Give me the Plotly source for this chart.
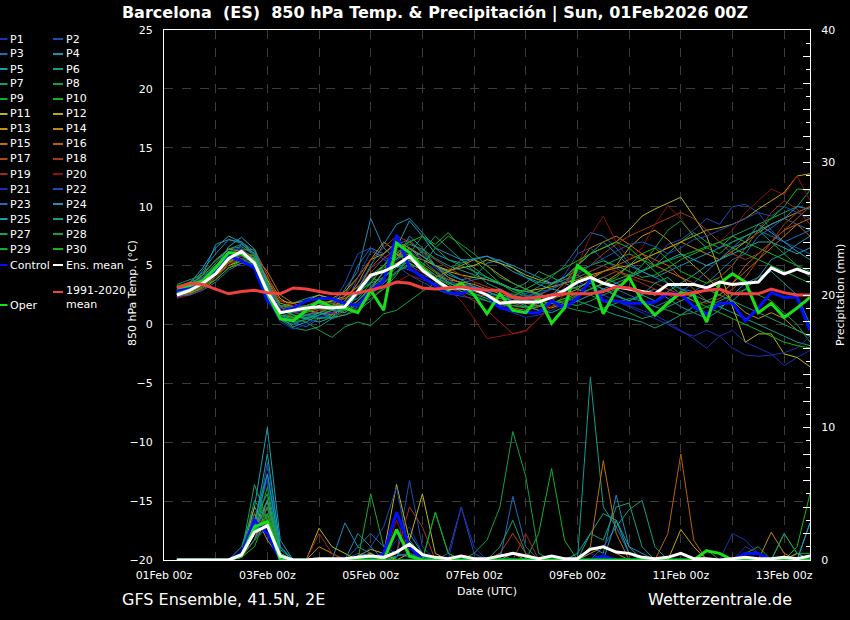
import plotly.graph_objects as go
import pandas as pd

# ---------------- time axis (6-hourly, 01Feb 06z .. 13Feb 12z) ----------------
times = pd.date_range("2026-02-01 06:00", periods=50, freq="6h")

# ---------------- 850 hPa temperature (°C) ----------------
T_P01 = [2.4,2.8,3.5,4.8,6.2,6.5,5.4,2.0,0.6,1.0, 1.4,1.8,1.2,2.0,3.5,4.8,5.5,6.0,5.2,4.0, 3.5,3.0,2.8,2.6,2.2,1.6,1.4,1.2,1.8,2.4, 3.0,3.6,3.2,2.5,2.0,1.6,1.2,0.8,0.2,-0.5, -1.2,-2.0,-1.0,-0.5,-1.5,-2.0,-2.5,-3.5,-2.8,-2.2]
T_P02 = [2.6,3.1,3.9,5.0,6.0,6.4,5.6,3.0,1.2,0.8, 0.6,1.0,0.9,1.5,4.0,6.2,5.8,5.0,4.2,3.6, 3.0,2.6,2.4,2.2,2.0,1.5,1.8,2.4,2.8,3.0, 4.2,6.0,6.5,5.5,4.8,4.0,4.5,5.5,6.8,7.2, 8.0,9.0,8.5,10.0,10.2,9.5,8.0,7.0,6.5,6.0]
T_P03 = [2.3,2.6,3.2,4.2,5.5,6.8,6.0,3.5,0.8,0.2, -0.2,0.5,0.8,2.5,5.0,6.5,6.0,6.8,7.2,6.0, 4.8,4.0,3.5,3.8,4.0,3.5,3.0,2.6,3.2,4.0, 5.0,6.5,7.8,7.5,6.5,5.2,4.5,4.0,3.5,3.0, 2.8,3.5,4.5,5.5,6.0,7.5,8.2,9.0,8.5,8.0]
T_P04 = [2.5,3.2,4.2,6.8,7.2,6.9,5.8,2.2,0.4,0.0, 0.5,1.0,1.5,3.0,4.5,9.0,6.5,5.5,7.5,6.5, 5.0,4.2,3.8,4.0,5.2,5.5,4.8,4.0,3.6,3.4, 3.8,4.2,3.5,3.0,2.4,2.0,2.6,3.0,2.2,1.5, 1.0,0.5,1.2,2.5,3.5,4.0,5.5,6.0,6.8,7.5]
T_P05 = [2.8,3.5,4.8,6.5,7.5,7.0,6.0,3.8,1.5,0.8, 0.5,0.2,0.6,1.8,2.5,3.0,4.5,6.5,8.8,7.5, 6.0,5.5,5.2,5.6,5.8,5.2,4.5,4.0,3.4,3.0, 2.8,3.2,3.6,4.0,3.5,3.0,2.5,2.0,2.8,3.5, 4.2,5.0,5.5,6.5,7.0,8.5,7.8,7.0,6.2,5.5]
T_P06 = [3.0,3.3,3.8,4.4,5.5,6.2,5.5,3.0,1.5,1.8, 2.2,2.5,2.0,1.8,2.2,3.5,4.0,5.0,5.5,4.8, 4.0,3.5,3.2,2.8,2.5,2.0,1.6,1.4,1.5,1.8, 2.2,2.0,1.6,1.2,0.8,0.5,0.2,-0.3,0.2,0.8, 1.5,2.0,1.5,1.0,0.5,0.0,-0.5,-1.0,-1.5,-1.8]
T_P07 = [2.9,3.4,4.0,5.2,6.4,6.6,5.9,2.6,0.4,-0.3, -0.5,-0.2,0.5,1.2,2.5,4.0,3.5,4.5,5.5,6.2, 7.5,6.5,5.5,4.5,3.5,3.0,2.5,2.2,2.5,3.0, 3.5,4.0,4.5,5.0,5.5,6.0,5.5,5.0,6.0,7.0, 7.8,7.0,6.5,7.5,8.0,8.5,9.0,9.5,10.0,11.4]
T_P08 = [3.2,3.6,4.0,4.6,5.4,5.8,5.2,2.4,0.8,0.5, 0.2,-0.5,-1.1,-0.2,0.2,-0.1,0.9,1.2,2.0,2.8, 3.5,4.5,5.5,4.8,4.0,3.5,3.0,2.5,2.0,1.8, 1.5,1.2,1.0,1.4,1.8,2.2,2.0,1.5,1.2,0.8, 1.0,1.5,2.0,2.5,3.0,2.5,2.0,1.0,0.0,-1.5]
T_P09 = [2.7,3.0,3.3,4.0,5.0,5.6,5.4,3.2,1.6,1.4, 1.6,2.0,1.8,1.5,1.2,2.5,4.0,6.0,7.0,6.2, 5.0,4.0,3.5,3.2,2.8,2.4,2.0,2.2,2.8,3.4, 4.0,4.6,5.0,5.4,5.0,4.5,4.0,4.2,4.8,5.5, 6.0,6.5,7.0,7.5,7.0,6.5,6.0,5.5,5.0,4.5]
T_P10 = [3.3,3.5,3.8,4.4,5.2,5.5,5.0,2.8,1.2,1.0, 1.4,1.8,2.0,2.2,2.8,3.5,5.0,6.5,7.0,7.5, 6.8,7.8,6.5,5.5,4.5,3.5,2.8,2.4,2.0,1.8, 2.0,2.5,3.0,3.5,4.0,5.0,6.0,6.5,5.5,4.5, 4.0,3.5,4.0,5.0,6.5,8.0,9.0,10.0,11.5,11.4]
T_P11 = [2.6,2.9,3.4,4.2,5.0,5.4,5.6,4.0,2.2,1.5, 1.2,1.6,2.0,2.4,3.2,4.0,4.6,5.2,5.8,5.5, 5.0,4.6,4.8,5.0,5.5,5.2,4.8,4.2,3.8,3.5, 4.0,5.0,6.0,6.5,7.0,8.0,9.2,9.8,10.3,10.8, 9.2,7.5,4.5,1.5,-1.5,-0.8,-0.8,-2.5,-2.8,-3.6]
T_P12 = [2.9,3.2,3.7,4.5,5.3,5.8,5.5,3.8,2.0,1.8, 2.0,2.5,2.2,2.8,4.0,5.5,6.0,7.0,6.5,5.8, 5.0,4.5,4.2,4.0,3.8,3.5,3.0,2.8,3.0,3.2, 3.5,3.8,4.2,4.5,4.8,5.0,5.5,6.0,6.5,7.0, 7.5,8.0,8.2,8.5,9.0,9.8,10.5,11.2,12.6,12.8]
T_P13 = [2.5,2.7,3.0,3.8,4.8,5.2,5.0,3.5,1.8,1.5, 1.2,1.0,0.8,1.5,2.8,4.0,5.0,6.0,5.2,4.6, 4.0,4.5,5.0,5.5,5.0,4.2,3.5,3.0,2.6,2.2, 2.5,3.0,3.8,4.5,5.0,6.5,7.5,8.0,7.2,6.0, 5.0,4.0,3.0,2.0,1.0,0.5,1.0,0.5,-0.5,-1.0]
T_P14 = [3.0,3.4,4.2,5.5,6.4,6.2,5.6,3.2,1.2,1.0, 1.2,1.4,1.6,2.0,3.5,5.5,7.0,6.2,5.4,5.0, 4.2,3.8,3.6,3.4,3.0,2.6,2.2,1.8,1.6,1.4, 1.8,2.4,3.0,3.5,4.2,5.0,5.5,6.0,6.5,7.0, 6.5,6.0,5.5,6.2,7.0,7.8,8.5,9.0,9.5,10.0]
T_P15 = [2.4,2.6,3.1,4.0,5.2,6.0,5.8,4.5,2.5,1.8, 1.4,1.2,1.0,1.3,2.0,3.0,4.5,5.8,6.5,5.5, 4.5,3.8,3.2,2.8,2.5,2.2,2.0,1.8,2.0,2.5, 3.5,5.0,6.5,7.0,7.5,6.8,6.0,5.0,4.5,4.0, 3.5,3.0,2.5,3.5,4.5,5.5,6.5,7.5,8.5,9.0]
T_P16 = [2.7,3.1,3.5,4.4,5.6,6.3,6.4,4.2,1.5,0.6, 0.8,1.2,1.5,1.8,3.0,4.8,6.0,7.0,6.5,5.8, 5.0,4.0,3.5,3.0,2.4,1.8,1.4,1.2,1.5,2.0, 2.8,3.6,4.0,4.5,5.0,5.5,6.0,5.5,5.0,4.0, 3.0,2.0,2.5,3.5,5.0,6.0,7.0,8.0,8.5,7.5]
T_P17 = [2.6,2.9,3.5,4.6,5.5,6.1,5.8,3.6,1.6,1.2, 1.6,2.0,1.8,2.2,3.2,4.4,5.6,6.4,5.6,4.8, 4.2,3.6,3.0,2.6,2.4,2.0,1.8,1.5,1.2,1.5, 2.0,2.8,3.5,4.0,4.5,4.2,3.8,3.5,3.0,2.5, 2.0,1.8,2.2,3.0,4.0,5.5,7.0,8.0,9.0,10.0]
T_P18 = [2.9,3.3,3.9,4.8,5.6,5.9,5.2,2.8,0.8,0.5, 0.8,1.2,1.4,2.5,4.0,5.5,6.5,7.5,7.0,6.2, 5.5,4.8,4.2,3.6,3.2,2.8,2.5,2.2,2.5,3.0, 3.6,4.2,5.0,6.0,6.8,7.5,8.0,8.5,9.0,9.5, 9.0,8.0,7.0,6.0,5.5,6.0,7.0,8.5,9.5,10.0]
T_P19 = [2.5,2.8,3.3,4.2,5.2,5.6,5.2,3.4,1.4,1.0, 1.2,1.5,1.2,1.0,1.8,2.8,3.6,4.5,5.0,4.4, 3.8,3.2,2.6,2.0,1.2,0.2,-0.8,-0.5,0.5,1.5, 2.5,3.5,4.5,5.0,4.5,4.0,3.5,3.0,2.5,2.0, 2.5,3.0,4.0,5.0,6.5,8.0,9.5,10.5,9.8,8.5]
T_P20 = [2.2,2.5,3.0,4.0,5.0,5.8,6.0,4.0,2.0,1.6, 1.4,1.2,1.0,0.8,1.4,2.4,3.0,3.6,4.2,3.8, 3.4,3.0,2.0,0.5,-1.2,-1.0,-0.8,-0.6,0.5,1.8, 3.2,5.0,7.5,9.2,7.0,5.5,6.5,8.5,10.1,9.0, 7.5,6.5,7.0,8.0,9.5,10.5,11.5,11.0,12.6,10.5]
T_P21 = [2.8,3.2,3.8,4.6,5.6,5.8,5.0,2.2,0.2,-0.4, 0.0,0.6,1.0,1.6,2.5,3.8,4.6,5.4,6.2,5.5, 4.6,3.8,3.2,2.6,2.0,1.4,1.0,0.6,0.8,1.2, 1.8,2.4,3.0,2.5,2.0,1.5,1.0,0.5,0.0,-0.6, -1.0,-0.5,-1.0,-2.0,-2.6,-2.7,-2.6,-2.4,-2.0,-1.0]
T_P22 = [3.1,3.4,4.0,4.8,5.8,6.0,5.4,3.0,1.4,1.2, 1.0,1.4,1.6,3.5,6.0,6.5,5.5,5.0,4.6,4.2, 3.8,3.6,3.4,3.2,3.0,2.8,2.6,2.4,2.6,3.0, 3.6,4.4,5.0,5.6,6.2,6.8,7.0,6.6,6.0,6.5, 7.2,7.5,8.0,8.5,9.0,9.5,9.2,10.0,9.5,9.0]
T_P23 = [2.4,2.5,2.9,3.6,4.6,5.2,5.0,3.2,1.5,1.0, 0.8,0.6,0.5,0.8,1.5,2.5,3.5,4.5,5.0,4.8, 4.2,3.6,3.0,2.8,2.6,2.4,2.2,2.0,2.2,2.6, 3.0,3.5,4.0,3.5,3.0,2.5,2.0,1.5,2.0,2.8, 3.5,4.5,5.5,6.5,7.5,8.0,7.5,7.0,7.5,8.0]
T_P24 = [2.7,3.0,4.6,6.0,7.2,7.0,6.2,3.4,0.8,0.4, 0.8,1.0,0.6,1.4,3.0,5.0,6.8,8.5,9.0,7.8, 6.5,6.0,5.5,5.5,5.8,5.4,5.0,4.5,4.0,3.5, 4.0,5.0,6.0,7.0,6.0,5.0,4.5,4.0,4.5,5.0, 5.5,6.0,6.5,7.0,7.5,8.0,8.5,9.0,10.0,9.8]
T_P25 = [2.6,2.9,3.4,4.8,6.6,7.4,6.4,3.6,0.6,-0.2, 0.2,0.8,1.2,1.0,2.0,3.2,4.4,5.6,6.4,5.8, 5.0,4.4,3.8,3.2,2.8,2.4,2.0,1.6,1.2,1.0, 1.5,2.0,2.5,3.0,3.5,4.0,4.5,5.0,5.5,6.0, 5.5,5.0,5.5,6.0,6.5,7.0,7.0,6.5,6.0,6.5]
T_P26 = [3.0,3.6,4.4,5.4,6.4,6.8,6.0,3.2,1.0,0.6, 0.5,0.8,1.2,1.8,3.0,4.2,5.0,6.0,6.8,6.4, 5.6,5.0,4.6,4.2,3.8,3.4,3.0,2.8,2.6,2.2, 2.8,3.2,3.5,3.0,2.5,2.0,2.5,3.5,4.0,3.0, 2.5,2.0,1.5,2.0,3.0,4.0,4.5,3.5,2.5,0.0]
T_P27 = [2.8,3.1,3.6,4.4,5.4,6.0,5.6,2.8,0.6,0.2, 0.4,1.0,1.4,1.2,1.6,2.2,3.0,4.2,6.0,7.5, 6.5,5.5,5.0,4.5,4.0,3.5,3.0,3.5,4.5,4.0, 3.5,3.0,2.5,2.0,1.5,1.0,0.5,0.8,1.5,2.0, 2.5,3.0,2.5,2.0,1.5,1.0,0.5,0.0,-0.5,-1.0]
T_P28 = [3.4,3.8,4.2,5.0,5.8,6.2,5.8,3.4,1.6,1.4, 1.6,1.8,1.5,1.0,2.0,3.0,4.0,4.8,5.4,5.0, 6.5,7.5,6.8,6.0,5.0,4.0,3.5,3.0,2.5,2.0, 1.8,1.6,2.0,2.5,3.0,4.0,5.0,6.5,8.0,8.8, 7.5,6.5,6.0,7.0,7.5,8.0,7.0,6.0,5.0,4.0]
T_P29 = [2.6,2.8,3.2,3.8,4.8,5.4,5.2,3.0,1.2,0.8, 0.6,0.5,0.6,0.8,1.2,2.0,3.2,4.4,5.2,4.6, 4.0,3.4,2.8,2.4,2.0,1.8,1.6,1.5,1.6,1.8, 2.2,2.6,3.0,3.4,3.8,4.2,4.6,5.0,5.4,5.8, 6.2,6.6,7.0,6.5,6.0,5.5,5.0,4.5,4.0,3.5]
T_P30 = [2.9,3.2,3.7,4.6,5.6,6.0,5.4,2.6,0.8,0.6, 1.0,1.4,1.2,1.8,2.6,3.6,4.8,5.6,6.0,5.2, 4.4,3.6,3.0,2.6,2.2,1.8,2.4,3.0,3.6,4.2, 4.8,5.4,6.0,6.5,7.0,6.5,5.5,4.5,3.5,2.5, 2.0,1.5,1.0,0.5,0.0,-0.5,-1.0,-1.5,-1.8,-2.0]
T_CONTROL = [2.9,3.2,3.6,4.6,5.8,5.4,4.8,2.0,1.0,1.4, 2.0,2.2,2.2,1.8,1.6,2.9,3.7,7.6,4.8,4.0, 3.3,2.7,2.6,3.0,2.5,1.4,1.2,1.0,1.0,2.0, 1.4,2.2,3.8,2.0,2.0,1.8,1.8,1.9,2.6,2.6, 1.5,0.9,1.8,1.8,0.3,1.4,2.7,2.3,2.3,-0.5]
T_OPER = [3.1,3.3,3.7,4.8,6.1,6.0,5.3,2.6,0.5,0.3, 1.2,2.0,1.5,1.4,1.0,2.9,1.2,6.9,6.1,4.8, 3.8,2.9,3.5,2.5,0.9,2.6,1.2,1.0,2.3,0.1, 1.4,5.0,4.2,0.9,2.9,4.0,2.0,0.8,1.8,2.7, 2.5,0.2,3.5,4.3,3.6,1.0,1.8,0.6,1.4,2.3]
T_MEAN = [2.5,2.9,3.5,4.3,5.6,6.2,5.2,2.8,1.0,1.2, 1.4,1.5,1.4,1.5,2.8,4.2,4.5,5.0,5.8,4.6, 3.8,3.1,3.1,3.0,2.5,1.8,1.9,1.9,1.9,2.3, 2.9,3.6,4.0,3.5,3.2,3.0,2.8,2.6,3.4,3.4, 3.4,3.1,3.6,3.4,3.5,3.6,4.8,4.3,4.7,4.3]
T_CLIM = [3.1,3.5,3.4,3.0,2.6,2.8,2.9,2.7,2.6,3.1, 3.0,2.8,2.6,2.6,2.7,2.9,3.2,3.6,3.5,3.1, 3.0,3.1,3.2,3.0,2.9,2.9,2.3,2.2,2.3,2.5, 2.6,2.6,2.6,2.8,3.2,3.1,2.7,2.6,2.6,2.5, 2.7,2.9,3.0,2.6,2.6,2.6,3.0,2.7,2.5,2.5]

# ---------------- precipitation (mm / 6 h) ----------------
R_P01 = [0,0,0,0,0,0.5,3.0,6.0,0.5,0, 0,0,0,0,0,0,0.3,1.5,2.5,0.5, 0,0,0,0,0,0,0,0,0,0, 0,0,0.5,0,0,0,0,0,0,0, 0,0,0,0,1.0,0.5,0,0,0,0]
R_P02 = [0,0,0,0,0,0.3,2.0,7.3,1.0,0, 0,0,0,0,0.5,0.2,0,0.5,6.0,1.0, 0,0.5,4.0,0.5,0,0,0,0,0,0, 0,0,0,0,0,0,0,0,0,0, 0,0,0,0,0,0,0,0,0,0]
R_P03 = [0,0,0,0,0,0.2,1.5,3.0,0.2,0, 0,0,0,0,1.0,2.0,1.0,0.5,0.2,0, 0,0,0,0,0,0,4.8,1.0,0,0, 0,0,0,0,0,0,0,0,0,0, 0,0,0,0,0,0,0,0,0.5,0]
R_P04 = [0,0,0,0,0,0.5,2.5,4.5,0.5,0, 0,0,0,2.8,1.0,0.5,0,0.3,0.5,0.2, 0,0,0,0,0,0.5,0,0,0,0, 0,0,1.0,0.5,4.9,1.0,0.5,0,0,0, 0,0,0,0,0,0,0,0,0,2.8]
R_P05 = [0,0,0,0,0,1.0,4.0,10.0,1.5,0, 0,0,0,0,0.3,0.5,0,0.2,2.0,0.5, 0,0,0,0,0,0,0,0,0,0, 0,0.5,2.0,3.5,3.0,1.0,0,0,0,0, 0,0,0,0,0,0,0,0,0,0]
R_P06 = [0,0,0,0,0,0.5,3.0,6.5,0.8,0, 0,0,0,0,0,0,0,0.5,1.5,0.3, 0,0,0,0,0,0,0,0,0,0, 0,0,13.8,4.0,2.5,3.8,4.5,1.0,0,0, 0,0,0,0,0,0,0,0,0,0]
R_P07 = [0,0,0,0,0,0.5,5.7,3.0,0.5,0, 0,0,0,0,0,0,0,0,0,0, 0,0,0,0,0,1.0,3.0,0.5,0,0, 0,0,0,0,0,0,0,0,0,0, 0,0,0,0,0,0,0,0,0,0]
R_P08 = [0,0,0,0,0,0.3,2.0,4.0,0.3,0, 0,0,0,0,0,0,0,0,0,0, 0,0,0,0.5,1.5,4.0,9.7,6.3,0.5,0, 0,0,0,0,0,0,0,0,0,0, 0,0,0,0,0.5,1.0,0,2.0,0.5,0.5]
R_P09 = [0,0,0,0,0,0.2,2.0,5.5,0.5,0, 0,0,0,0,0,5.0,1.0,0,0,0, 3.6,0.5,0,0,0,0,0,0,2.0,6.9, 1.5,0,0,0,0,0,0,0,0,0, 0,0,0,0,0,0,0,0,0,0]
R_P10 = [0,0,0,0,0,0.2,1.0,3.5,0.2,0, 0,0,0,0,0,0.2,0.5,0,0,0, 0,0,0,0,0,0,0,0,0,0, 0,0,0,0,0,0,0,0,0,0, 0,0,0,0,0,0,0,0,1.0,5.0]
R_P11 = [0,0,0,0,0,0.5,2.5,4.0,0.5,0, 0,2.4,1.0,0.5,0,0,0.5,5.7,1.5,5.0, 0.5,0,0,0,0,0,0,0,0,0, 0,0,0,0,0,0,0,0,0,0, 0,0,0,0,0,0,0,0,0,0]
R_P12 = [0,0,0,0,0,0.3,4.0,2.5,0.3,0, 0,0,0,0,0.3,0.8,0.5,0,0,0, 0,0,0,0,0,0,0,0,0,0, 0,0,0,0,0,0,0,0,0,2.3, 1.0,0,0,0,0,0,0,0,0.5,0]
R_P13 = [0,0,0,0,0,0.5,3.5,1.5,0.2,0, 0,0,0,0,0,0.5,0,0,0.5,0, 0,0,0,0,0,0,0.5,0,0,0, 0,0,0,0,0,0,0,0,0,0, 0,0,0,0,0,0,0,0.3,0,0]
R_P14 = [0,0,0,0,0,0.2,2.0,3.0,0.3,0, 0,1.0,0.5,0,0,0.3,0,0,0,0, 0,0,0,0,0,0,0,0,0,0, 0,0,0.5,1.0,0.5,0,0,0,0,0, 0,0,0,0,0,0,2.1,0.5,0,0]
R_P15 = [0,0,0,0,0,0.3,1.5,4.5,0.5,0, 0,0,0,0,0,0,0,0,0,0, 0,0,0,0,0,0,0,0,0,0, 0,0,1.0,7.5,2.0,0,0,0,0,0, 0,0,0,0,0,0,0,0,0,0]
R_P16 = [0,0,0,0,0,0.5,3.0,2.0,0.2,0, 0,0,0,0,0,0,0,0,0,0, 0,0,0,0,0,0,0,0,0,0, 0,0,0,0,0,0,0,0,2.0,8.0, 1.5,0,0,0,0,0,0,0,0,0.3]
R_P17 = [0,0,0,0,0,0.3,2.5,4.0,0.3,0, 0,0,0,0,0,0,0,0,0,0, 0,0,0,0,0,0.5,2.0,0.5,0,0, 0,0,0,0,0,0,0,0,0,0, 0,0,0,0,0,0,0,0,0,0]
R_P18 = [0,0,0,0,0,0.2,1.5,3.5,0.5,0, 0,0,0,0,0,0,0,0.5,4.0,2.5, 0,0,0,0,0,0,0,0,0,0, 0,0,0,0,0,0,0,0,0,0, 0,0,0,0,0,0,0,0,0,0]
R_P19 = [0,0,0,0,0,0.3,2.0,3.0,0.3,0, 0,2.0,0.5,0,0,0,0,0,0,0, 0,0,0,0,0,0,0,2.0,0,0, 0,0,0,0,0,0,0,0,0,0, 0,0,0,0,0,0,0,0,0,0]
R_P20 = [0,0,0,0,0,0.5,1.5,2.5,0.3,0, 0,0,0,0,0,0,0,3.0,0.5,0, 0,0,0,0,0,0,0,0,0,0, 0,0,0,0,0,0,0,0,0,0, 0,0,0,0,0,0,0,0,0,0]
R_P21 = [0,0,0,0,0,0.3,2.0,4.0,0.3,0, 0,0,0,0,0,0,0,0,0,0, 0,0,4.0,1.0,0,0,0,0,0,0, 0,0,0,0,0,0,0,0,0,0, 0,0,0,2.0,1.5,0.5,0,0,0,0]
R_P22 = [0,0,0,0,0,0.5,3.5,5.0,0.5,0, 0,0,0,0,0,1.0,2.5,5.5,0.5,0, 0,0,0,0,0,0,0,0,0,0, 0,0,0,0,0,0,0,0,0,0, 0,0,0,0,0,0,0,0,0,0]
R_P23 = [0,0,0,0,0,0.3,1.5,2.5,0.3,0, 0,0,0,0,0,0,0,0,0,0, 0,0,0,0,0,0,0,0,0,0, 0,0,0,1.0,2.5,0.5,0,0,0,0, 0,0,0,0,0,0,0,0,0,0]
R_P24 = [0,0,0,0,0,0.5,2.0,6.5,0.5,0, 0,0,0,0,2.0,1.0,0,0,0,0, 0,0,0,0,0,0,0,0,0,0, 0,0,0,0,0,0,0,0,0,0, 0,0,0,0,0,0,0,0,0,0]
R_P25 = [0,0,0,0,0,0.5,2.5,8.0,1.0,0, 0,0,0,0,0,0,0,0,0,0, 0,0,0,0,0,0,0,0,0,0, 0,0,0,0,3.0,0.5,0,0,0,0, 0,0,0,0,0,0,0,0,0,2.8]
R_P26 = [0,0,0,0,0,0.3,2.0,4.5,0.5,0, 0,0,0,0,0,0,0,0,0,0, 0,0,0,0,0,0,0,0,0,0, 0,0,2.0,1.5,4.0,4.3,1.0,0,0,0, 0,0,0,0,0,0,0,0,0,0]
R_P27 = [0,0,0,0,0,0.5,4.5,3.0,0.5,0, 0,0,0,0,0,0,0,0,0,0, 0,0,0,0,0,0,0,0,0,0, 0,0,0,0,0,0,0,0,0,0, 0,0,0,0,0,0,0,2.0,0.5,0]
R_P28 = [0,0,0,0,0,0.3,1.5,4.0,0.3,0, 0,0,0,0,0,0,0,0,0,0, 0,0,0,0,0,0,0,0,0,0, 0,0,0,0,0,0,0,0,0,0, 0,0,0,0,0,0,0,0,0,0]
R_P29 = [0,0,0,0,0,0.5,3.0,5.0,0.5,0, 0,0,0,0,0,0,0,0,0,0, 3.6,0.5,0,0,0,0,0,0,0,0, 0,0,0,0,0,0,0,0,0,0, 0,0,0,0,0,0,0,0,0,0]
R_P30 = [0,0,0,0,0,0.3,2.0,3.5,0.3,0, 0,0,0,0,0,0,0,0,0,0, 0,0,0,0,0,0,0,0,0,0, 0,0,0,0,0,0,0,0,0,0, 0,0.8,0,0,0,0,0,0,0,0]
R_CONTROL = [0,0,0,0,0,0.5,3.0,2.0,0,0, 0,0,0,0,0,0,0.5,3.6,1.0,0, 0,0,0,0,0,0,0,0,0,0, 0,0,0,0.3,0,0,0,0,0,0, 0,0,0,0,0.5,0.5,0,0,0,0]
R_OPER = [0,0,0,0,0,0.3,2.5,2.9,0,0, 0,0,0,0,0,0,0,2.3,0.3,0, 0,0,0,0,0,0,0,0,0,0, 0,0,0,0,0,0,0,0,0,0, 0,0.7,0.5,0,0,0,0,0,0,0]
R_MEAN = [0,0,0,0,0,0.4,2.1,2.6,0.3,0, 0,0.1,0.1,0.1,0.2,0.3,0.2,0.6,1.2,0.4, 0.2,0.1,0.3,0.1,0.1,0.3,0.5,0.3,0.1,0.3, 0.1,0.1,0.8,1.0,0.6,0.5,0.2,0.1,0.2,0.5, 0.1,0.1,0,0.1,0.2,0.1,0.1,0.2,0.1,0.3]

PALETTE = ["#1c30b4", "#1c4cb4", "#1c6cb8", "#1c8cb8", "#18a0b0",
           "#10a088", "#10a068", "#10a048", "#10b028", "#10b810",
           "#b8b818", "#c0a808", "#c09808", "#c08808", "#c07008",
           "#b86008", "#b04810", "#a83818", "#a02818", "#901010"]
NAMES = ["P%d" % i for i in range(1, 31)]
COL_CONTROL = "#0010ff"
COL_OPER = "#18e018"
COL_MEAN = "#ffffff"
COL_CLIM = "#f04040"

temp_members = [T_P01, T_P02, T_P03, T_P04, T_P05, T_P06, T_P07, T_P08, T_P09, T_P10,
                T_P11, T_P12, T_P13, T_P14, T_P15, T_P16, T_P17, T_P18, T_P19, T_P20,
                T_P21, T_P22, T_P23, T_P24, T_P25, T_P26, T_P27, T_P28, T_P29, T_P30]
rain_members = [R_P01, R_P02, R_P03, R_P04, R_P05, R_P06, R_P07, R_P08, R_P09, R_P10,
                R_P11, R_P12, R_P13, R_P14, R_P15, R_P16, R_P17, R_P18, R_P19, R_P20,
                R_P21, R_P22, R_P23, R_P24, R_P25, R_P26, R_P27, R_P28, R_P29, R_P30]

def mcol(i):
    return PALETTE[i % 20]

fig = go.Figure()
FONT = "DejaVu Sans"

for i, vals in enumerate(temp_members):
    fig.add_trace(go.Scatter(x=times, y=vals, mode="lines", name=NAMES[i],
                             line=dict(color=mcol(i), width=1), showlegend=False))
fig.add_trace(go.Scatter(x=times, y=T_CONTROL, mode="lines", line=dict(color=COL_CONTROL, width=3), showlegend=False))
fig.add_trace(go.Scatter(x=times, y=T_OPER, mode="lines", line=dict(color=COL_OPER, width=3), showlegend=False))
fig.add_trace(go.Scatter(x=times, y=T_MEAN, mode="lines", line=dict(color=COL_MEAN, width=3), showlegend=False))
fig.add_trace(go.Scatter(x=times, y=T_CLIM, mode="lines", line=dict(color=COL_CLIM, width=3), showlegend=False))

for i, vals in enumerate(rain_members):
    fig.add_trace(go.Scatter(x=times, y=vals, mode="lines", yaxis="y2",
                             line=dict(color=mcol(i), width=1), showlegend=False))
fig.add_trace(go.Scatter(x=times, y=R_CONTROL, mode="lines", yaxis="y2", line=dict(color=COL_CONTROL, width=3), showlegend=False))
fig.add_trace(go.Scatter(x=times, y=R_OPER, mode="lines", yaxis="y2", line=dict(color=COL_OPER, width=3), showlegend=False))
fig.add_trace(go.Scatter(x=times, y=R_MEAN, mode="lines", yaxis="y2", line=dict(color=COL_MEAN, width=3), showlegend=False))

L, R, T, B = 164, 40, 30, 60
W, H = 850, 620
PW, PH = W - L - R, H - T - B

def px(x):
    return (x - L) / PW

def py(y):
    return (H - B - y) / PH

shapes = []
annotations = []

def legend_item(x0, x1, y, color, text, width=2):
    shapes.append(dict(type="line", xref="paper", yref="paper", x0=px(x0), x1=px(x1),
                       y0=py(y), y1=py(y), line=dict(color=color, width=width)))
    annotations.append(dict(xref="paper", yref="paper", x=px(x1 + 0.5), y=py(y), text=text,
                            showarrow=False, xanchor="left", yanchor="middle",
                            font=dict(family=FONT, size=11, color="white")))

for r in range(15):
    y = 39 + 15 * r
    legend_item(0, 7.5, y, mcol(2 * r), NAMES[2 * r])
    legend_item(53, 63, y, mcol(2 * r + 1), NAMES[2 * r + 1])
legend_item(0, 7.5, 265, COL_CONTROL, "Control")
legend_item(53, 63, 265, COL_MEAN, "Ens. mean")
legend_item(53, 63, 292, COL_CLIM, "")
annotations.append(dict(xref="paper", yref="paper", x=px(64), y=py(297), text="1991-2020<br>mean",
                        showarrow=False, xanchor="left", yanchor="middle", align="left",
                        font=dict(family=FONT, size=11, color="white")))
legend_item(0, 7.5, 305, COL_OPER, "Oper")

# axis titles as rotated annotations
annotations.append(dict(xref="paper", yref="paper", x=px(132), y=py(293), text="850 hPa Temp. (°C)",
                        textangle=-90, showarrow=False, xanchor="center", yanchor="middle",
                        font=dict(family=FONT, size=11, color="white")))
annotations.append(dict(xref="paper", yref="paper", x=px(840), y=py(295), text="Precipitation (mm)",
                        textangle=-90, showarrow=False, xanchor="center", yanchor="middle",
                        font=dict(family=FONT, size=11, color="white")))

annotations.append(dict(xref="paper", yref="paper", x=px(120), y=py(599), text="GFS Ensemble, 41.5N, 2E",
                        showarrow=False, xanchor="left", yanchor="middle",
                        font=dict(family=FONT, size=16, color="white")))
annotations.append(dict(xref="paper", yref="paper", x=px(794), y=py(599), text="Wetterzentrale.de",
                        showarrow=False, xanchor="right", yanchor="middle",
                        font=dict(family=FONT, size=16, color="white")))

NB = "\u00a0"
title_text = "Barcelona" + NB * 2 + "(ES)" + NB * 2 + "850 hPa Temp. &amp; Precipitación | Sun, 01Feb2026 00Z"

GRID = "#3c3c3c"
fig.update_layout(
    width=W, height=H,
    margin=dict(l=L, r=R, t=T, b=B, pad=0),
    paper_bgcolor="black", plot_bgcolor="black",
    font=dict(family=FONT, size=11, color="white"),
    title=dict(text="<b>" + title_text + "</b>", x=435 / W, xanchor="center", y=1 - 12 / H, yanchor="middle",
               xref="container", yref="container", font=dict(family=FONT, size=16, color="white")),
    showlegend=False,
    shapes=shapes, annotations=annotations,
    xaxis=dict(type="date", range=["2026-02-01 00:00", "2026-02-13 12:00"],
               tickmode="linear", tick0="2026-02-01 00:00", dtick=2 * 86400000,
               tickformat="%d%b %Hz", ticks="", ticklabelstandoff=5,
               showgrid=True, gridcolor=GRID, griddash="dash", gridwidth=1,
               minor=dict(dtick=86400000, tick0="2026-02-01 00:00", showgrid=True, gridcolor=GRID, griddash="dash", gridwidth=1),
               showline=True, linecolor="white", linewidth=1, mirror=True, zeroline=False,
               tickfont=dict(family=FONT, size=11, color="white"),
               title=dict(text="Date (UTC)", standoff=6, font=dict(family=FONT, size=11, color="white"))),
    yaxis=dict(range=[-20, 25], dtick=5, tick0=0, ticks="", ticklabelstandoff=8,
               showgrid=True, gridcolor=GRID, griddash="dash",
               showline=True, linecolor="white", linewidth=1, mirror=True, zeroline=False,
               tickfont=dict(family=FONT, size=11, color="white")),
    yaxis2=dict(range=[0, 40], overlaying="y", side="right", showgrid=False, zeroline=False,
                tickmode="array", tickvals=list(range(0, 41, 2)),
                ticktext=[str(v) if v % 10 == 0 else "" for v in range(0, 41, 2)],
                ticks="inside", ticklen=7, tickcolor="white", tickwidth=1, ticklabelstandoff=8,
                minor=dict(tickvals=list(range(1, 40, 2)), ticks="inside", ticklen=4, tickcolor="white", tickwidth=1),
                showline=True, linecolor="white", linewidth=1,
                tickfont=dict(family=FONT, size=11, color="white")),
)

fig.write_html("out.html")
